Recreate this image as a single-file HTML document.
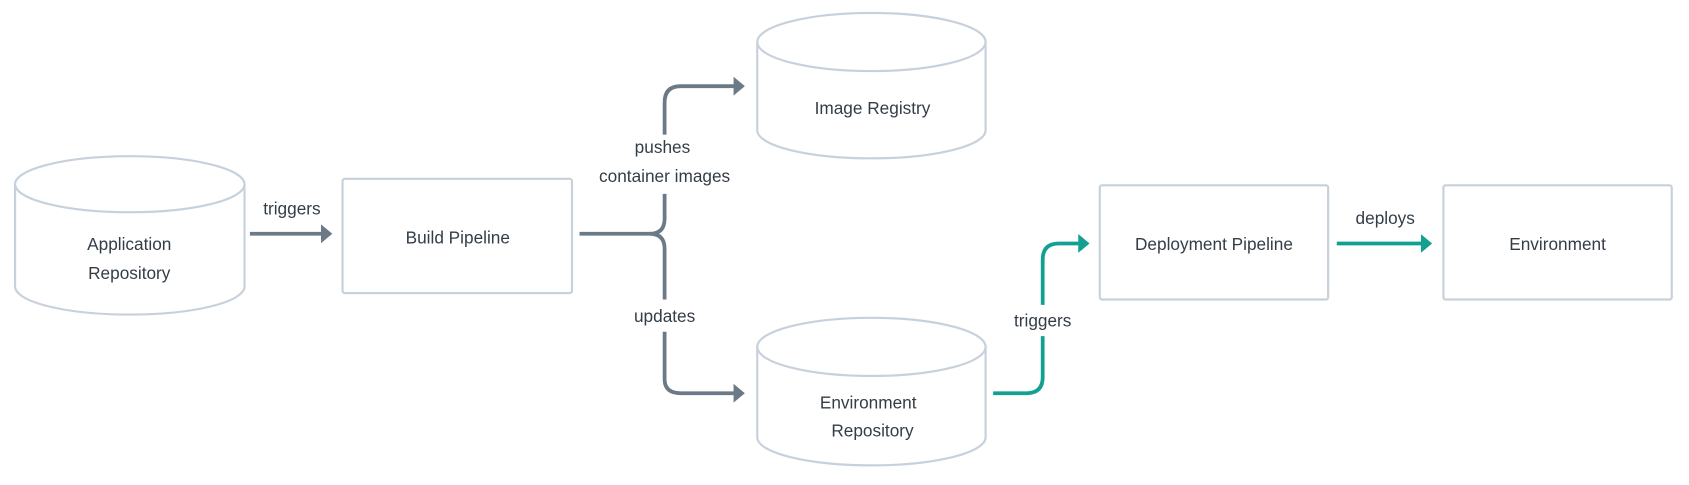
<!DOCTYPE html>
<html><head><style>html,body{margin:0;padding:0;background:#fff;}svg{display:block}</style></head>
<body>
<svg width="1689" height="485" viewBox="0 0 1568 450.2" preserveAspectRatio="none" xmlns="http://www.w3.org/2000/svg">
<defs>
<marker id="ag" markerWidth="5" markerHeight="5" refX="2" refY="2.5" orient="auto" markerUnits="strokeWidth"><path d="M0,0 L3,2.5 L0,5 Z" fill="#6b7a86"/></marker>
<marker id="at" markerWidth="5" markerHeight="5" refX="2" refY="2.5" orient="auto" markerUnits="strokeWidth"><path d="M0,0 L3,2.5 L0,5 Z" fill="#12a090"/></marker>
</defs>
<g fill="#fff" stroke="#c7d1dc" stroke-width="2">
<path d="M14,171 L14,266 A106.5,26 0 0 0 227,266 L227,171"/>
<ellipse cx="120.5" cy="171" rx="106.5" ry="26"/>
<path d="M703,39 L703,121 A106,26 0 0 0 915,121 L915,39"/>
<ellipse cx="809" cy="39" rx="106" ry="27"/>
<path d="M703,322 L703,406 A106,26 0 0 0 915,406 L915,322"/>
<ellipse cx="809" cy="322" rx="106" ry="27"/>
<rect x="318" y="166" width="213" height="106" rx="2"/>
<rect x="1021" y="172" width="212" height="106" rx="2"/>
<rect x="1340" y="172" width="212" height="106" rx="2"/>
</g>
<g fill="none" stroke="#6b7a86" stroke-width="3.5">
<path d="M232,217 L305,217" marker-end="url(#ag)"/>
<path d="M538,217 L603,217 Q617,217 617,203 L617,180"/>
<path d="M617,125 L617,95 Q617,80 632,80 L688,80" marker-end="url(#ag)"/>
<path d="M603,217 Q617,217 617,231 L617,278"/>
<path d="M617,308 L617,352 Q617,365 632,365 L688,365" marker-end="url(#ag)"/>
</g>
<g fill="none" stroke="#12a090" stroke-width="3.5">
<path d="M922,365 L953,365 Q968,365 968,350 L968,312"/>
<path d="M968,283 L968,241 Q968,226 983,226 L1008,226" marker-end="url(#at)"/>
<path d="M1241,226 L1326,226" marker-end="url(#at)"/>
</g>
<g font-family="'Liberation Sans', 'DejaVu Sans', sans-serif" font-size="16" fill="#333d47" text-anchor="middle">
<text x="120" y="232">Application</text>
<text x="120" y="259">Repository</text>
<text x="271" y="199">triggers</text>
<text x="425" y="226">Build Pipeline</text>
<text x="615" y="142">pushes</text>
<text x="617" y="169">container images</text>
<text x="617" y="299">updates</text>
<text x="810" y="106">Image Registry</text>
<text x="806" y="379">Environment</text>
<text x="810" y="405">Repository</text>
<text x="968" y="303">triggers</text>
<text x="1127" y="232">Deployment Pipeline</text>
<text x="1286" y="208">deploys</text>
<text x="1446" y="232">Environment</text>
</g>
</svg>
</body></html>
